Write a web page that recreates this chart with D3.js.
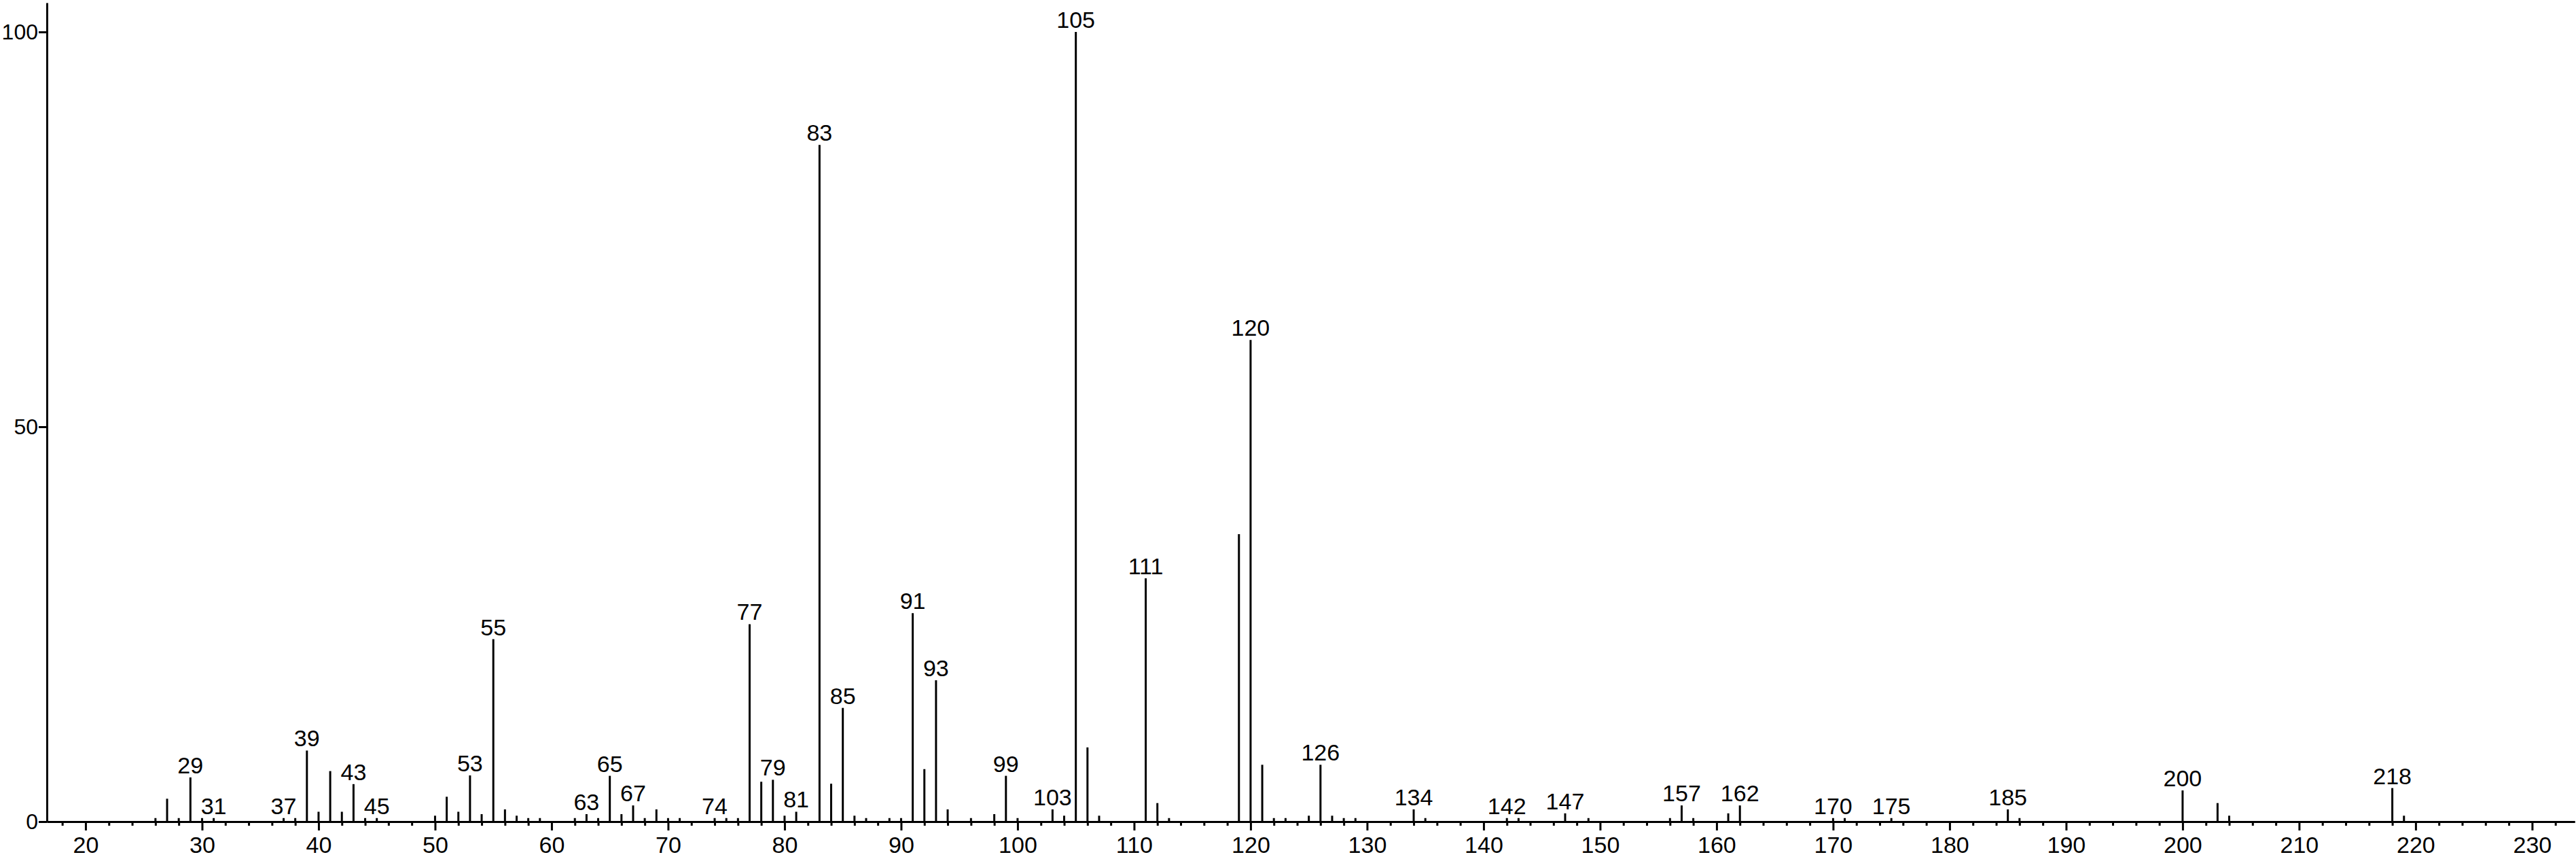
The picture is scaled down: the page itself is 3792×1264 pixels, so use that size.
<!DOCTYPE html>
<html>
<head>
<meta charset="utf-8">
<script src="https://cdn.jsdelivr.net/npm/d3@7"></script>
<style>
    body { margin: 0; background: #fff; }
    svg { display: block; }
    .axis path, .axis line { stroke: #000; stroke-width: 3; }
    .axis text { font-family: "Liberation Sans", Arial, sans-serif; font-size: 34px; fill: #000; }
    .y-axis text { font-size: 32px; }
    .peak { stroke: #000; stroke-width: 3; }
    .peak-label { font-family: "Liberation Sans", Arial, sans-serif; font-size: 34px; fill: #000; }
</style>
</head>
<body>
<svg width="3792" height="1264"></svg>
<script>
// Spectrum data: m/z and relative intensity (%)
var mz = [26, 27, 28, 29, 30, 31, 37, 38, 39, 40, 41, 42, 43, 44, 45,
    50, 51, 52, 53, 54, 55, 56, 57, 58, 59, 62, 63, 64, 65, 66, 67, 68, 69, 70, 71, 74, 75,
    76, 77, 78, 79, 80, 81, 83, 84, 85, 86, 87, 89, 90, 91, 92, 93, 94, 96, 98, 99, 100, 103, 104,
    105, 106, 107, 111, 112, 113, 119, 120, 121, 122, 123, 125, 126, 127, 128, 129,
    134, 135, 142, 143, 147, 149, 156, 157, 158, 161, 162, 170, 171, 175, 185, 186,
    200, 203, 204, 218, 219];
var intensity = [0.45, 2.9, 0.45, 5.6, 0.45, 0.45, 0.45, 0.45, 9.0, 1.25, 6.4, 1.25, 4.75, 0.45, 0.45,
    0.75, 3.15, 1.25, 5.85, 0.95, 23.1, 1.55, 0.75, 0.45, 0.45, 0.45, 0.95, 0.45, 5.8, 0.95, 2.05, 0.45, 1.55, 0.45, 0.45, 0.45, 0.45,
    0.45, 25.0, 5.05, 5.3, 0.75, 1.25, 85.7, 4.8, 14.4, 0.75, 0.45, 0.45, 0.45, 26.4, 6.65, 17.9, 1.55, 0.45, 0.95, 5.8, 0.45, 1.55, 0.75,
    100, 9.4, 0.75, 30.8, 2.35, 0.45, 36.4, 61.0, 7.2, 0.45, 0.45, 0.75, 7.2, 0.75, 0.45, 0.45,
    1.55, 0.45, 0.45, 0.45, 1.05, 0.45, 0.45, 2.05, 0.45, 1.05, 2.05, 0.45, 0.45, 0.45, 1.55, 0.45,
    3.95, 2.35, 0.75, 4.25, 0.75];
var labeled = [29, 31, 37, 39, 43, 45, 53, 55, 63, 65, 67, 74, 77, 79, 81, 83, 85, 91, 93, 99,
    103, 105, 111, 120, 126, 134, 142, 147, 157, 162, 170, 175, 185, 200, 218];
var xMajor = [20, 30, 40, 50, 60, 70, 80, 90, 100, 110, 120, 130, 140, 150, 160, 170, 180, 190, 200, 210, 220, 230];
var yTicks = [0, 50, 100];

var svg = d3.select("svg");

var x = d3.scaleLinear().domain([16.68, 233.65]).range([69, 3790]);
var y = d3.scaleLinear().domain([0, 103.7]).range([1209, 4]);

var peaks = mz.map(function (m, i) { return { mz: m, v: intensity[i] }; });

// minor ticks every 2 units
var xMinor = d3.range(18, 234, 2).filter(function (d) { return d % 10 !== 0; });

svg.append("g")
    .attr("class", "axis")
    .attr("transform", "translate(0,1209)")
    .call(d3.axisBottom(x).tickValues(xMinor).tickSize(6).tickSizeOuter(0).tickFormat(""));

svg.append("g")
    .attr("class", "axis")
    .attr("transform", "translate(0,1209)")
    .call(d3.axisBottom(x).tickValues(xMajor).tickSize(13).tickSizeOuter(0).tickPadding(9).tickFormat(d3.format("d")));

svg.append("g")
    .attr("class", "axis y-axis")
    .attr("transform", "translate(69,0)")
    .call(d3.axisLeft(y).tickValues(yTicks).tickSize(12).tickSizeOuter(0).tickPadding(1).tickFormat(d3.format("d")));

svg.selectAll(".peak")
    .data(peaks)
    .enter()
    .append("line")
    .attr("class", "peak")
    .attr("x1", function (d) { return x(d.mz); })
    .attr("x2", function (d) { return x(d.mz); })
    .attr("y1", y(0))
    .attr("y2", function (d) { return y(d.v); });

svg.selectAll(".peak-label")
    .data(peaks.filter(function (d) { return labeled.indexOf(d.mz) >= 0; }))
    .enter()
    .append("text")
    .attr("class", "peak-label")
    .attr("text-anchor", "middle")
    .attr("x", function (d) { return x(d.mz); })
    .attr("y", function (d) { return y(d.v) - 6; })
    .text(function (d) { return d.mz; });
</script>
</body>
</html>
